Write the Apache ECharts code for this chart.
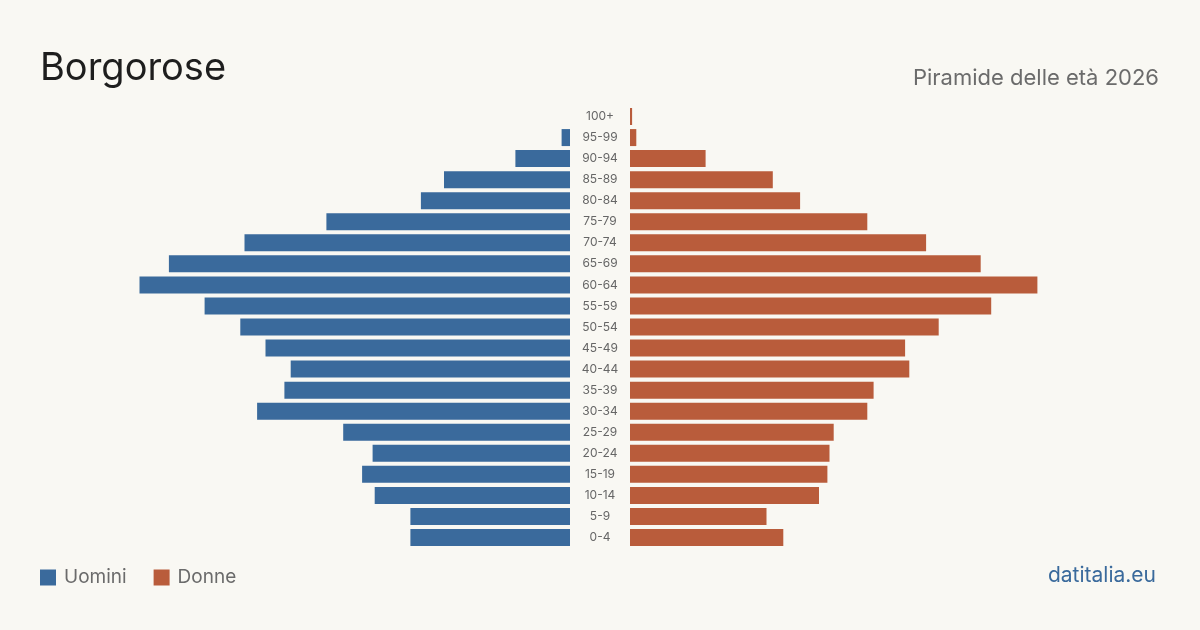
<!DOCTYPE html>
<html>
<head>
<meta charset="utf-8">
<style>
    html, body { margin: 0; padding: 0; background: #f9f8f3; }
    #chart { width: 1200px; height: 630px; }
</style>
<script src="https://cdn.jsdelivr.net/npm/echarts@6/dist/echarts.min.js"></script>
</head>
<body>
<div id="chart"></div>
<script>
    // fasce d'età, dall'alto in basso
    var ages = ['100+', '95-99', '90-94', '85-89', '80-84', '75-79', '70-74', '65-69', '60-64', '55-59',
        '50-54', '45-49', '40-44', '35-39', '30-34', '25-29', '20-24', '15-19', '10-14', '5-9', '0-4'];
    var uomini = [0, 4, 26, 60, 71, 116, 155, 191, 205, 174, 157, 145, 133, 136, 149, 108, 94, 99, 93, 76, 76];
    var donne = [1, 3, 36, 68, 81, 113, 141, 167, 194, 172, 147, 131, 133, 116, 113, 97, 95, 94, 90, 65, 73];
    var maxVal = 205;

    var blue = '#3a6a9c';
    var red = '#b95c3b';
    var font = 'Inter, "Noto Sans", sans-serif';

    var chart = echarts.init(document.getElementById('chart'));
    var option = {
        backgroundColor: '#f9f8f3',
        animation: false,
        title: [
            {
                text: 'Borgorose', left: 40, top: 50, padding: 0,
                textStyle: { fontFamily: font, fontSize: 38, fontWeight: 'normal', color: '#1e1e1e' }
            },
            {
                text: 'Piramide delle età 2026', right: 41, top: 67, padding: 0,
                textStyle: { fontFamily: font, fontSize: 22, fontWeight: 'normal', color: '#6b6b6b' }
            },
            {
                text: 'datitalia.eu', right: 44, top: 565, padding: 0,
                textStyle: { fontFamily: font, fontSize: 21, fontWeight: 'normal', color: '#3a6a9c' }
            }
        ],
        legend: {
            left: 40, top: 568, padding: 0,
            itemWidth: 16, itemHeight: 16, itemGap: 27,
            icon: 'rect',
            textStyle: { fontFamily: font, fontSize: 19, color: '#6b6b6b', padding: [0, 0, 0, 3] },
            data: ['Uomini', 'Donne']
        },
        grid: [
            { left: 139.5, width: 430.5, top: 106, height: 442 },
            { left: 630, width: 430.5, top: 106, height: 442 }
        ],
        xAxis: [
            { gridIndex: 0, type: 'value', min: 0, max: maxVal, inverse: true, show: false },
            { gridIndex: 1, type: 'value', min: 0, max: maxVal, show: false }
        ],
        yAxis: [
            { gridIndex: 0, type: 'category', data: ages, inverse: true, show: false },
            {
                gridIndex: 1, type: 'category', data: ages, inverse: true, position: 'left',
                axisLine: { show: false }, axisTick: { show: false },
                axisLabel: { margin: 30, align: 'center', fontFamily: font, fontSize: 12, color: '#666' }
            }
        ],
        series: [
            {
                name: 'Uomini', type: 'bar', xAxisIndex: 0, yAxisIndex: 0,
                data: uomini, barWidth: 17, itemStyle: { color: blue }
            },
            {
                name: 'Donne', type: 'bar', xAxisIndex: 1, yAxisIndex: 1,
                data: donne, barWidth: 17, itemStyle: { color: red }
            }
        ]
    };
    chart.setOption(option);
</script>
</body>
</html>
